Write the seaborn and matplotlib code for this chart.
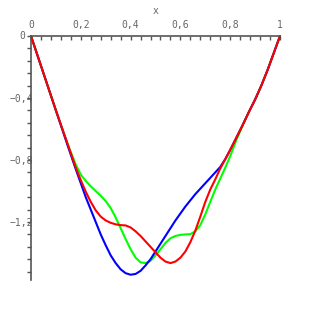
import numpy as np
import pandas as pd
import matplotlib
matplotlib.use("Agg")
import matplotlib.pyplot as plt
import seaborn as sns
from matplotlib.ticker import MultipleLocator, FixedLocator, FixedFormatter

# ---- data ----
blue_x = [0, 0.05, 0.10, 0.15, 0.18, 0.20, 0.22, 0.24, 0.26, 0.28, 0.30, 0.32, 0.34, 0.36,
          0.38, 0.40, 0.42, 0.44, 0.46, 0.48, 0.50, 0.52, 0.54, 0.56, 0.58, 0.60, 0.62,
          0.64, 0.66, 0.68, 0.70, 0.72, 0.74, 0.76, 0.78, 0.80, 0.825, 0.85, 0.875, 0.90,
          0.925, 0.95, 0.975, 1.0]
blue_y = [0, -0.24, -0.48, -0.72, -0.86, -0.95, -1.04, -1.12, -1.20, -1.28, -1.35, -1.415, -1.465, -1.505,
          -1.53, -1.54, -1.535, -1.515, -1.48, -1.44, -1.39, -1.34, -1.29, -1.24, -1.19, -1.145, -1.10,
          -1.06, -1.02, -0.985, -0.95, -0.915, -0.88, -0.845, -0.795, -0.735, -0.655, -0.575, -0.49, -0.41,
          -0.32, -0.22, -0.11, 0]

red_x = [0, 0.05, 0.10, 0.15, 0.18, 0.20, 0.22, 0.24, 0.26, 0.28, 0.30, 0.32, 0.34, 0.36,
         0.38, 0.40, 0.42, 0.44, 0.46, 0.48, 0.50, 0.52, 0.54, 0.56, 0.58, 0.60, 0.62,
         0.64, 0.66, 0.68, 0.70, 0.72, 0.74, 0.76, 0.78, 0.80, 0.825, 0.85, 0.875, 0.90,
         0.925, 0.95, 0.975, 1.0]
red_y = [0, -0.24, -0.48, -0.71, -0.85, -0.93, -1.005, -1.07, -1.125, -1.165, -1.19, -1.205, -1.215, -1.22,
         -1.222, -1.235, -1.26, -1.29, -1.325, -1.36, -1.395, -1.43, -1.455, -1.465, -1.455, -1.43, -1.39,
         -1.33, -1.255, -1.165, -1.07, -0.99, -0.925, -0.855, -0.795, -0.735, -0.655, -0.575, -0.49, -0.41,
         -0.32, -0.22, -0.11, 0]

green_x = [0, 0.05, 0.10, 0.15, 0.18, 0.20, 0.22, 0.24, 0.26, 0.28, 0.30, 0.32, 0.34, 0.36,
           0.38, 0.40, 0.42, 0.44, 0.46, 0.48, 0.50, 0.52, 0.54, 0.56, 0.58, 0.60, 0.62,
           0.64, 0.66, 0.68, 0.70, 0.72, 0.74, 0.76, 0.78, 0.80, 0.825, 0.85, 0.875, 0.90,
           0.925, 0.95, 0.975, 1.0]
green_y = [0, -0.24, -0.48, -0.71, -0.83, -0.895, -0.935, -0.97, -1.00, -1.03, -1.065, -1.11, -1.17, -1.24,
           -1.31, -1.375, -1.43, -1.46, -1.465, -1.45, -1.415, -1.375, -1.335, -1.305, -1.29, -1.283, -1.28,
           -1.278, -1.26, -1.22, -1.15, -1.07, -0.99, -0.92, -0.85, -0.775, -0.67, -0.575, -0.49, -0.41,
           -0.32, -0.22, -0.11, 0]

x_major = [0, 0.2, 0.4, 0.6, 0.8, 1.0]
x_labels = ["0", "0,2", "0,4", "0,6", "0,8", "1"]
y_major = [-0.4, -0.8, -1.2]
y_labels = ["\u22120,4", "\u22120,8", "\u22121,2"]

sns.set_style("white")
plt.rcParams["font.family"] = ["DejaVu Sans Mono", "DejaVu Sans"]

fig = plt.figure(figsize=(3.11, 3.11), dpi=100)
ax = fig.add_axes([31/311, 31/311, 249/311, 244/311])

df = pd.concat([
    pd.DataFrame({"x": green_x, "y": green_y, "s": "green"}),
    pd.DataFrame({"x": blue_x, "y": blue_y, "s": "blue"}),
    pd.DataFrame({"x": red_x, "y": red_y, "s": "red"}),
])
for name, col in [("green", "#00ff00"), ("blue", "#0000ff"), ("red", "#ff0000")]:
    sub = df[df["s"] == name]
    sns.lineplot(data=sub, x="x", y="y", color=col, linewidth=1.5, ax=ax,
                 sort=False, estimator=None, clip_on=False)

ax.set_xlim(0, 1)
ax.set_ylim(-1.574, 0)

axc = "#555555"
for s in ["right", "bottom"]:
    ax.spines[s].set_visible(False)
for s in ["top", "left"]:
    ax.spines[s].set_visible(True)
    ax.spines[s].set_color(axc)
    ax.spines[s].set_linewidth(1.2)
    ax.spines[s].set_zorder(5)

ax.xaxis.set_ticks_position("top")
ax.xaxis.set_label_position("top")
ax.xaxis.set_major_locator(FixedLocator(x_major))
ax.xaxis.set_major_formatter(FixedFormatter(x_labels))
ax.xaxis.set_minor_locator(MultipleLocator(0.04))
ax.tick_params(axis="x", which="both", direction="in", length=3, width=1, color=axc,
               labelsize=7, labelcolor="#666666", pad=4.5)

ax.yaxis.set_ticks_position("left")
ax.yaxis.set_major_locator(FixedLocator(y_major))
ax.yaxis.set_major_formatter(FixedFormatter(y_labels))
ax.yaxis.set_minor_locator(MultipleLocator(0.08))
ax.tick_params(axis="y", which="both", direction="out", length=3, width=1, color=axc,
               labelsize=7, labelcolor="#666666", pad=-4.5)

ax.text(-0.022, 0, "0", ha="right", va="center", fontsize=7, color="#666666")
ax.set_xlabel("x", fontsize=7, color="#666666", labelpad=4)
ax.set_ylabel("")

fig.savefig("out.png", dpi=100)
